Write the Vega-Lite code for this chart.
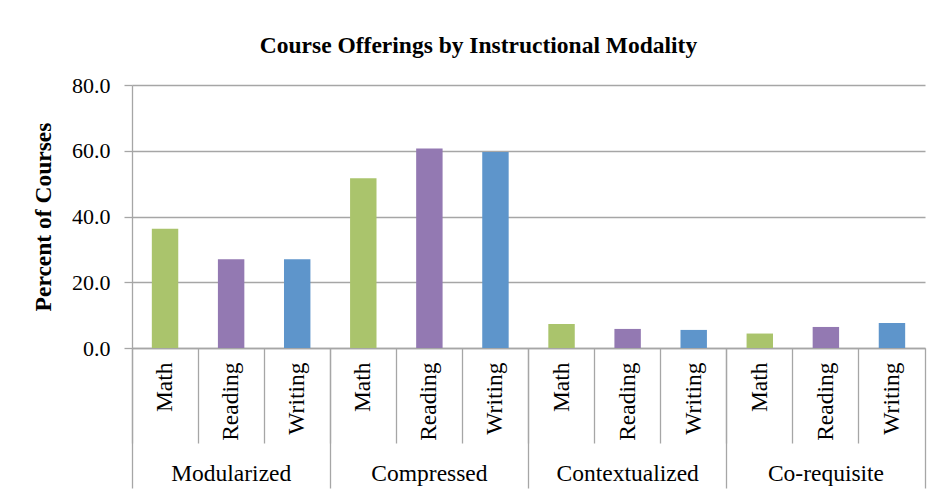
{
  "$schema": "https://vega.github.io/schema/vega-lite/v6.json",
  "width": 793,
  "height": 263,
  "autosize": {"type": "none"},
  "padding": {"left": 132, "top": 85, "right": 14, "bottom": 147},
  "background": "white",
  "title": {
    "text": "Course Offerings by Instructional Modality",
    "font": "Liberation Serif",
    "fontSize": 23.5,
    "fontWeight": "bold",
    "color": "black",
    "anchor": "middle",
    "dx": -50,
    "offset": 17
  },
  "data": {
    "values": [
      {"group": "Modularized", "subject": "Math", "key": "Modularized|Math", "value": 36.3},
      {"group": "Modularized", "subject": "Reading", "key": "Modularized|Reading", "value": 27.0},
      {"group": "Modularized", "subject": "Writing", "key": "Modularized|Writing", "value": 27.0},
      {"group": "Compressed", "subject": "Math", "key": "Compressed|Math", "value": 51.6},
      {"group": "Compressed", "subject": "Reading", "key": "Compressed|Reading", "value": 60.7},
      {"group": "Compressed", "subject": "Writing", "key": "Compressed|Writing", "value": 59.6},
      {"group": "Contextualized", "subject": "Math", "key": "Contextualized|Math", "value": 7.3},
      {"group": "Contextualized", "subject": "Reading", "key": "Contextualized|Reading", "value": 5.8},
      {"group": "Contextualized", "subject": "Writing", "key": "Contextualized|Writing", "value": 5.5},
      {"group": "Co-requisite", "subject": "Math", "key": "Co-requisite|Math", "value": 4.4},
      {"group": "Co-requisite", "subject": "Reading", "key": "Co-requisite|Reading", "value": 6.4},
      {"group": "Co-requisite", "subject": "Writing", "key": "Co-requisite|Writing", "value": 7.6}
    ]
  },
  "encoding": {
    "y": {
      "field": "value",
      "type": "quantitative",
      "scale": {"domain": [0, 80]},
      "axis": {
        "values": [0, 20, 40, 60, 80],
        "format": ".1f",
        "title": "Percent of Courses",
        "titleFont": "Liberation Serif",
        "titleFontSize": 23.5,
        "titleFontWeight": "bold",
        "titleColor": "black",
        "titlePadding": 16,
        "labelFont": "Liberation Serif",
        "labelFontSize": 22,
        "labelColor": "black",
        "labelPadding": 14,
        "tickSize": 8,
        "tickColor": "#A6A6A6",
        "tickWidth": 1.3,
        "gridColor": "#A6A6A6",
        "gridWidth": 1.3,
        "domainColor": "#A6A6A6",
        "domainWidth": 1.3
      }
    }
  },
  "layer": [
    {
      "mark": {"type": "bar", "width": {"band": 0.4}},
      "encoding": {
        "x": {
          "field": "key",
          "type": "nominal",
          "sort": null,
          "scale": {"paddingInner": 0, "paddingOuter": 0},
          "axis": {
            "orient": "bottom",
            "title": null,
            "grid": false,
            "bandPosition": 0,
            "tickSize": 95,
            "tickColor": "#A6A6A6",
            "tickWidth": 1.3,
            "domainColor": "#A6A6A6",
            "domainWidth": 1.3,
            "labelExpr": "split(datum.label, '|')[1]",
            "labelAngle": 270,
            "labelAlign": "right",
            "labelBaseline": "middle",
            "labelOffset": 0,
            "labelPadding": -81,
            "labelOverlap": false,
            "labelFont": "Liberation Serif",
            "labelFontSize": 23.5,
            "labelColor": "black"
          }
        },
        "color": {
          "field": "subject",
          "type": "nominal",
          "scale": {"domain": ["Math", "Reading", "Writing"], "range": ["#AAC46C", "#9379B2", "#5E95CB"]},
          "legend": null
        }
      }
    },
    {
      "mark": {"type": "bar", "opacity": 0},
      "encoding": {
        "x": {
          "field": "key",
          "type": "nominal",
          "sort": null,
          "axis": {
            "orient": "bottom",
            "title": null,
            "grid": false,
            "domain": false,
            "values": ["Modularized|Writing", "Compressed|Writing", "Contextualized|Writing", "Co-requisite|Writing"],
            "bandPosition": 1,
            "tickSize": 140,
            "tickColor": "#A6A6A6",
            "tickWidth": 1.3,
            "labelExpr": "split(datum.label, '|')[0]",
            "labelAngle": 0,
            "labelAlign": "center",
            "labelBaseline": "alphabetic",
            "labelOffset": -66,
            "labelPadding": -8,
            "labelOverlap": false,
            "labelFont": "Liberation Serif",
            "labelFontSize": 23.5,
            "labelColor": "black"
          }
        }
      }
    },
    {
      "mark": {"type": "bar", "opacity": 0},
      "encoding": {
        "x": {
          "field": "key",
          "type": "nominal",
          "sort": null,
          "axis": {
            "orient": "bottom",
            "title": null,
            "grid": false,
            "domain": false,
            "labels": false,
            "values": ["Modularized|Math"],
            "bandPosition": 0,
            "tickSize": 140,
            "tickColor": "#A6A6A6",
            "tickWidth": 1.3
          }
        }
      }
    }
  ],
  "resolve": {"axis": {"x": "independent"}},
  "config": {"view": {"stroke": null}}
}
